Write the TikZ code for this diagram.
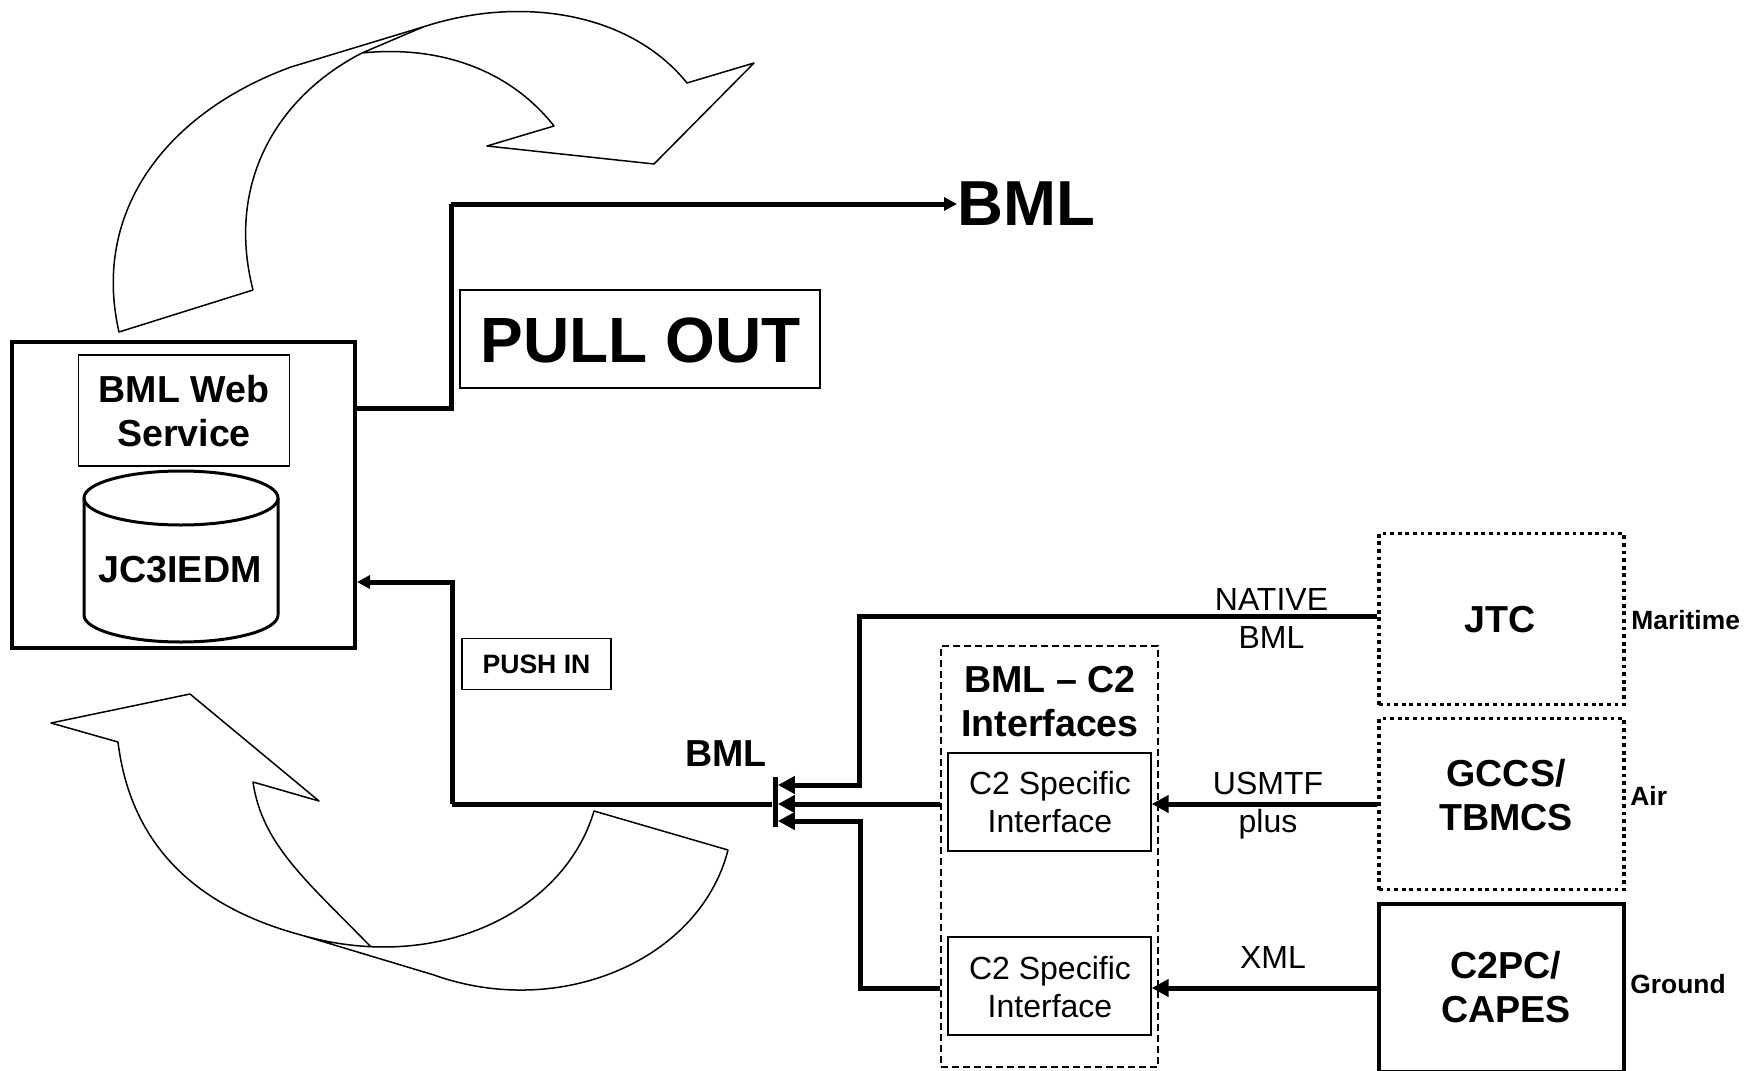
\documentclass[tikz,border=0pt]{standalone}
\usepackage{fontspec}
\setmainfont{Liberation Sans}
\usetikzlibrary{arrows.meta,calc}
\tikzset{
  x=0.5pt,y=-0.5pt,
  thinbox/.style={draw,line width=0.7pt,inner sep=0pt,align=center},
  heavybox/.style={draw,line width=2pt,inner sep=0pt,align=center},
  dotbox/.style={draw,line width=1.9pt,dash pattern=on 1.9pt off 1.9pt,inner sep=0pt,align=center},
  dashbox/.style={draw,line width=0.7pt,dash pattern=on 3.5pt off 2pt,inner sep=0pt},
  bigb/.style={font=\fontsize{18.8pt}{22pt}\selectfont\bfseries,align=center,inner sep=0pt},
  plainlab/.style={font=\fontsize{16pt}{19pt}\selectfont,align=center,inner sep=0pt},
  smallb/.style={font=\fontsize{13.2pt}{16pt}\selectfont\bfseries,inner sep=0pt},
  wire/.style={line width=2.5pt},
  tipa/.style={line width=2.5pt,-{Triangle[length=8.5pt,width=8.5pt]}},
  tipb/.style={line width=2.5pt,-{Triangle[length=6.5pt,width=6.5pt]}},
  curve/.style={line width=0.75pt,line join=round},
}
\begin{document}
\begin{tikzpicture}
\clip (0,0) rectangle (1758,1071);
\fill[white] (0,0) rectangle (1758,1071);
% sweeping arrows
\draw[curve] (253,290) -- (119,332) .. controls (91,210) and (168,112) .. (291,67) -- (423,27);
\draw[curve] (253,290) .. controls (225,180) and (280,95) .. (362,53) -- (423,27) .. controls (520,-5) and (630,12) .. (687,83) -- (754,63) -- (654,164) -- (487,146) -- (554,126) .. controls (510,70) and (440,45) .. (362,53);
\draw[curve] (118,742) .. controls (130,840) and (190,905) .. (301,935) -- (434,975) .. controls (560,1020) and (700,960) .. (728,850) -- (594,811) .. controls (565,910) and (440,975) .. (301,935);
\draw[curve] (371,947) .. controls (308,882) and (262,845) .. (253,782) -- (319,801) -- (190,694) -- (51,723) -- (118,742);
% boxes
\node[heavybox,minimum width=171.5pt,minimum height=153pt] (web) at (183.5,495) {};
\node[thinbox,minimum width=105.5pt,minimum height=55.5pt] (svc) at (184,410.5) {};
\node[bigb] (svctext) at (184,411) {BML Web\\Service};
\node[bigb] (jc) at (180,570) {JC3IEDM};
\draw[line width=1.5pt] (181,498) ellipse [x radius=97,y radius=27];
\draw[line width=1.5pt] (84,498) -- (84,615) arc[start angle=180,end angle=0,x radius=97,y radius=27] -- (278,498);
\node[thinbox,minimum width=180pt,minimum height=49pt] (pull) at (640,339) {};
\node[inner sep=0pt,font=\fontsize{32pt}{36pt}\selectfont\bfseries] (pulltext) at (640.5,340.5) {PULL OUT};
\node[thinbox,minimum width=74.5pt,minimum height=25.5pt,font=\fontsize{13.3pt}{16pt}\selectfont\bfseries] (push) at (536.5,664) {PUSH IN};
\node[inner sep=0pt,font=\fontsize{31.8pt}{36pt}\selectfont\bfseries,anchor=west] (bmltop) at (957,204) {BML};
\node[bigb] (bmlmid) at (726,754) {BML};
\node[dashbox,minimum width=108.5pt,minimum height=210.5pt] (ifgroup) at (1049.5,856.5) {};
\node[bigb] (iftitle) at (1050,701.5) {BML – C2\\Interfaces};
\node[thinbox,minimum width=101.5pt,minimum height=49pt] (ifa) at (1049.5,802) {};
\node[plainlab] (ifatext) at (1050,802) {C2 Specific\\Interface};
\node[thinbox,minimum width=101.5pt,minimum height=49pt] (ifb) at (1049.5,986) {};
\node[plainlab] (ifbtext) at (1050,987) {C2 Specific\\Interface};
\node[dotbox,minimum width=122.5pt,minimum height=85.5pt] (jtc) at (1501.5,619) {};
\node[bigb] (jtctext) at (1500,620) {JTC};
\node[dotbox,minimum width=122.5pt,minimum height=85.5pt] (gccs) at (1501.5,804) {};
\node[bigb] (gccstext) at (1506,795.5) {GCCS/\\TBMCS};
\node[heavybox,minimum width=122.5pt,minimum height=84pt] (c2pc) at (1501.5,987.5) {};
\node[bigb] (c2pctext) at (1506,987.5) {C2PC/\\CAPES};
\node[smallb,anchor=west] (mar) at (1631,620) {Maritime};
\node[smallb,anchor=west] (air) at (1630,796) {Air};
\node[smallb,anchor=west] (gnd) at (1630,984) {Ground};
\node[plainlab] (native) at (1271.5,618.5) {NATIVE\\BML};
\node[plainlab] (usmtf) at (1268,805.5) {USMTF\\plus};
\node[plainlab] (xml) at (1273,957) {XML};
\node[fill=black,inner sep=0pt,minimum width=2.5pt,minimum height=25pt] (hub) at (775,802) {};
% connectors
\coordinate (bendA) at (451,408);
\coordinate (bendB) at (451,204);
\coordinate (bendC) at (452,582);
\coordinate (bendD) at (452,804);
\coordinate (bendE) at (859,616);
\coordinate (bendF) at (859,785);
\coordinate (bendG) at (860,821);
\coordinate (bendH) at (860,988);
\draw[wire,line join=miter] (web.east |- bendA) -- (bendA) -- (bendB);
\draw[tipb] (bendB) -- (bmltop.west);
\draw[tipb] (bendD) -- (bendC) -- (web.east |- bendC);
\draw[wire] (hub.west |- bendD) -- (bendD);
\draw[tipa] (jtc.west |- bendE) -- (bendE) -- (bendF) -- (hub.east |- bendF);
\draw[tipa] (ifgroup.west |- bendD) -- (hub.east |- bendD);
\draw[tipa] (ifgroup.west |- bendH) -- (bendH) -- (bendG) -- (hub.east |- bendG);
\draw[tipa] (gccs.west |- bendD) -- (ifa.east |- bendD);
\draw[tipa] (c2pc.west |- bendH) -- (ifb.east |- bendH);
\end{tikzpicture}
\end{document}
